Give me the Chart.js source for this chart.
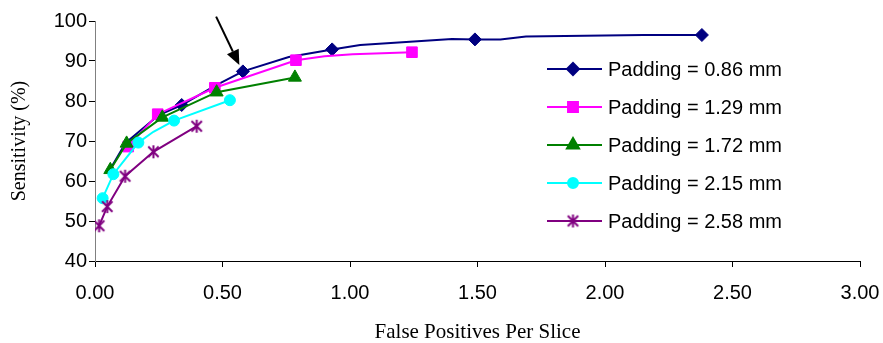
<!DOCTYPE html>
<html lang="en">
<head>
    <meta charset="UTF-8" />
    <title>Sensitivity vs False Positives</title>
    <style>
        html, body {
            margin: 0;
            padding: 0;
            background: #fff;
        }
        #chart-container {
            width: 883px;
            height: 343px;
        }
    </style>
    <script src="https://cdn.jsdelivr.net/npm/chart.js"></script>
</head>
<body>
<div id="chart-container">
    <canvas id="rocChart"></canvas>
</div>

<script>
  // series data (x = false positives per slice, y = sensitivity %)
  const labels = [
    "Padding = 0.86 mm",
    "Padding = 1.29 mm",
    "Padding = 1.72 mm",
    "Padding = 2.15 mm",
    "Padding = 2.58 mm",
  ];

  const fp086 = [0.06, 0.12, 0.25, 0.34, 0.47, 0.58, 0.76, 0.93, 1.04, 1.40, 1.49, 1.59, 1.69, 2.15, 2.38];
  const sens086 = [63.0, 69.5, 76.5, 79.0, 83.8, 87.4, 91.0, 92.9, 94.0, 95.5, 95.4, 95.4, 96.1, 96.5, 96.5];
  const mark086 = [0, 0, 0, 1, 0, 1, 0, 1, 0, 0, 1, 0, 0, 0, 1];

  const fp129 = [0.13, 0.246, 0.47, 0.788, 0.90, 1.01, 1.243];
  const sens129 = [68.6, 76.7, 83.3, 90.2, 91.2, 91.7, 92.2];
  const mark129 = [1, 1, 1, 1, 0, 0, 1];

  const fp172 = [0.06, 0.124, 0.264, 0.477, 0.784];
  const sens172 = [62.8, 69.4, 75.9, 82.2, 85.9];
  const mark172 = [1, 1, 1, 1, 1];

  const fp215 = [0.03, 0.072, 0.17, 0.229, 0.31, 0.529];
  const sens215 = [55.7, 61.7, 69.6, 72.3, 75.1, 80.2];
  const mark215 = [1, 1, 1, 0, 1, 1];

  const fp258 = [0.016, 0.048, 0.118, 0.229, 0.399];
  const sens258 = [48.8, 53.6, 61.2, 67.3, 73.7];
  const mark258 = [1, 1, 1, 1, 1];

  // arrow pointing at the 0.86 mm curve (data coordinates)
  const arrowFrom = [0.475, 101.1];
  const arrowTo = [0.566, 89.0];

  const xTicks = [0, 0.5, 1, 1.5, 2, 2.5, 3];

  // Excel-like star marker: X with a vertical bar
  function makeStar(color, size) {
    const c = document.createElement("canvas");
    c.width = size;
    c.height = size;
    const g = c.getContext("2d");
    g.strokeStyle = color;
    g.lineWidth = 2;
    const m = size / 2, r = size / 2 - 1;
    g.beginPath();
    g.moveTo(m - r * 0.8, m - r * 0.8);
    g.lineTo(m + r * 0.8, m + r * 0.8);
    g.moveTo(m + r * 0.8, m - r * 0.8);
    g.lineTo(m - r * 0.8, m + r * 0.8);
    g.moveTo(m, m - r);
    g.lineTo(m, m + r);
    g.stroke();
    return c;
  }

  const series = [
    { xs: fp086, ys: sens086, mark: mark086, color: "#000080", style: "rectRot", radius: 6.5 },
    { xs: fp129, ys: sens129, mark: mark129, color: "#FF00FF", style: "rect", radius: 7.5 },
    { xs: fp172, ys: sens172, mark: mark172, color: "#008000", style: "triangle", radius: 7.5 },
    { xs: fp215, ys: sens215, mark: mark215, color: "#00FFFF", style: "circle", radius: 5.5 },
    { xs: fp258, ys: sens258, mark: mark258, color: "#800080", style: makeStar("#800080", 15), radius: 7 },
  ];

  const datasets = series.map((s, i) => ({
    label: labels[i],
    data: s.xs.map((x, j) => ({ x: x, y: s.ys[j] })),
    borderColor: s.color,
    backgroundColor: s.color,
    borderWidth: 2,
    tension: 0,
    showLine: true,
    pointStyle: s.style,
    pointRadius: s.mark.map((m) => (m ? s.radius : 0)),
    pointBorderWidth: 1,
    pointBorderColor: s.color,
    pointBackgroundColor: s.color,
    order: -i,
  }));

  const legendPlugin = {
    id: "insideLegend",
    afterDraw(chart) {
      const ctx = chart.ctx;
      const area = chart.chartArea;
      const x0 = area.right - 313;
      const y0 = area.top + 48;
      ctx.save();
      ctx.font = "20px 'Liberation Sans', Arial, sans-serif";
      ctx.textBaseline = "middle";
      ctx.fillStyle = "#000";
      series.forEach((s, i) => {
        const y = y0 + i * 38;
        ctx.strokeStyle = s.color;
        ctx.lineWidth = 2;
        ctx.beginPath();
        ctx.moveTo(x0, y);
        ctx.lineTo(x0 + 55, y);
        ctx.stroke();
        ctx.fillStyle = s.color;
        Chart.helpers.drawPoint(ctx, { pointStyle: s.style, radius: s.radius - 0.5, rotation: 0, borderWidth: 1 }, x0 + 26, y);
        ctx.fillStyle = "#000";
        ctx.fillText(labels[i], x0 + 61, y + 1);
      });
      ctx.restore();
    },
  };

  const arrowPlugin = {
    id: "arrow",
    afterDraw(chart) {
      const xs = chart.scales.x, ys = chart.scales.y;
      const x1 = xs.getPixelForValue(arrowFrom[0]), y1 = ys.getPixelForValue(arrowFrom[1]);
      const x2 = xs.getPixelForValue(arrowTo[0]), y2 = ys.getPixelForValue(arrowTo[1]);
      const ang = Math.atan2(y2 - y1, x2 - x1);
      const head = 15, half = 6.5;
      const bx = x2 - head * Math.cos(ang), by = y2 - head * Math.sin(ang);
      const ctx = chart.ctx;
      ctx.save();
      ctx.strokeStyle = "#000";
      ctx.fillStyle = "#000";
      ctx.lineWidth = 2;
      ctx.beginPath();
      ctx.moveTo(x1, y1);
      ctx.lineTo(bx, by);
      ctx.stroke();
      ctx.beginPath();
      ctx.moveTo(x2, y2);
      ctx.lineTo(bx + half * Math.sin(ang), by - half * Math.cos(ang));
      ctx.lineTo(bx - half * Math.sin(ang), by + half * Math.cos(ang));
      ctx.closePath();
      ctx.fill();
      ctx.restore();
    },
  };

  const ctx = document.getElementById("rocChart").getContext("2d");
  new Chart(ctx, {
    type: "scatter",
    data: { datasets: datasets },
    options: {
      responsive: true,
      maintainAspectRatio: false,
      animation: false,
      layout: {
        padding: { top: 21, right: 23, left: 0, bottom: 0 },
      },
      scales: {
        x: {
          type: "linear",
          min: 0,
          max: 3,
          afterBuildTicks: (scale) => {
            scale.ticks = xTicks.map((v) => ({ value: v }));
          },
          afterFit: (scale) => {
            scale.height = 82;
            scale.paddingLeft = 0;
            scale.paddingRight = 0;
          },
          ticks: {
            color: "#000",
            padding: 14,
            maxRotation: 0,
            font: { family: "'Liberation Sans', Arial, sans-serif", size: 20 },
            callback: (value) => Number(value).toFixed(2),
          },
          grid: {
            drawOnChartArea: false,
            drawTicks: true,
            tickLength: 6,
            color: "#000",
          },
          border: { display: true, color: "#000", width: 1 },
          title: {
            display: true,
            text: "False Positives Per Slice",
            color: "#000",
            padding: { top: 0, bottom: 0 },
            font: { family: "'Liberation Serif', 'Times New Roman', serif", size: 21, lineHeight: 1 },
          },
        },
        y: {
          type: "linear",
          min: 40,
          max: 100,
          afterFit: (scale) => {
            scale.width = 95;
            scale.paddingTop = 0;
            scale.paddingBottom = 0;
          },
          ticks: {
            stepSize: 10,
            color: "#000",
            padding: 2,
            font: { family: "'Liberation Sans', Arial, sans-serif", size: 20 },
          },
          grid: {
            drawOnChartArea: false,
            drawTicks: true,
            tickLength: 6,
            color: "#000",
          },
          border: { display: true, color: "#808080", width: 1 },
          title: {
            display: true,
            text: "Sensitivity (%)",
            color: "#000",
            padding: { top: 8, bottom: 0 },
            font: { family: "'Liberation Serif', 'Times New Roman', serif", size: 20, lineHeight: 1.2 },
          },
        },
      },
      plugins: {
        legend: { display: false },
        tooltip: { enabled: false },
      },
    },
    plugins: [legendPlugin, arrowPlugin],
  });
</script>
</body>
</html>
